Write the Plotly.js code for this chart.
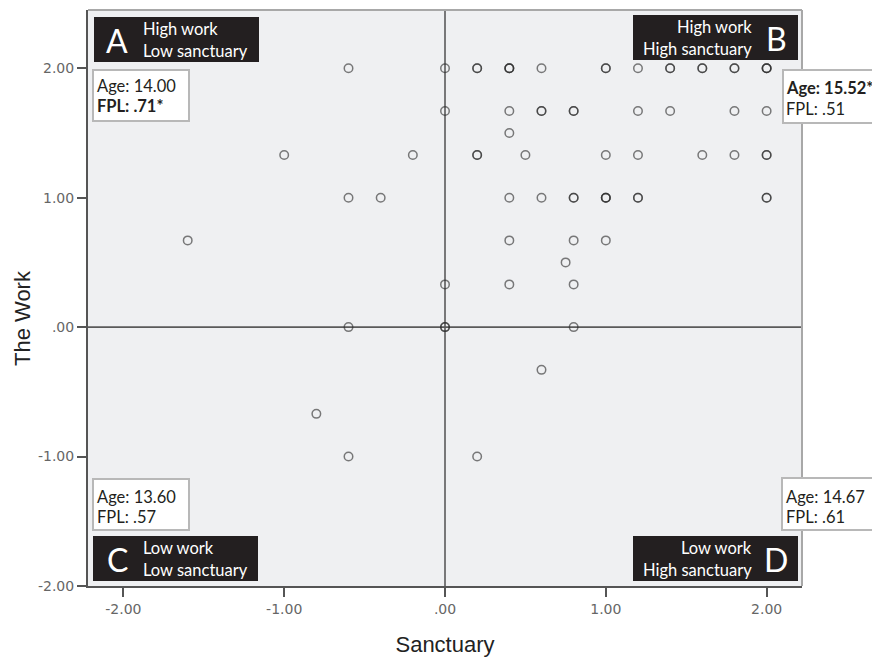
<!DOCTYPE html>
<html>
<head>
<meta charset="utf-8">
<script src="https://cdn.plot.ly/plotly-3.0.1.min.js"></script>
<style>html,body{margin:0;padding:0;background:#fff;}#chart{width:872px;height:657px;}</style>
</head>
<body>
<div id="chart"></div>
<script>
// Sanctuary (x) and The Work (y) scores; repeated pairs are overlapping cases
const sanctuary = [
  -0.6, 0, 0.2, 0.2, 0.4, 0.4, 0.4, 0.6, 1.0, 1.0, 1.2, 1.4, 1.4, 1.6, 1.6, 1.8, 1.8, 2.0, 2.0, 2.0,
  0, 0.4, 0.6, 0.6, 0.8, 0.8, 1.2, 1.4, 1.8, 2.0,
  0.4,
  -1.0, -0.2, 0.2, 0.2, 0.5, 1.0, 1.2, 1.6, 1.8, 2.0, 2.0,
  -0.6, -0.4, 0.4, 0.6, 0.8, 0.8, 1.0, 1.0, 1.0, 1.2, 1.2, 2.0, 2.0,
  -1.6, 0.4, 0.8, 1.0,
  0.75,
  0, 0.4, 0.8,
  -0.6, 0, 0, 0.8,
  0.6,
  -0.8,
  -0.6, 0.2
];
const work = [
  2, 2, 2, 2, 2, 2, 2, 2, 2, 2, 2, 2, 2, 2, 2, 2, 2, 2, 2, 2,
  1.67, 1.67, 1.67, 1.67, 1.67, 1.67, 1.67, 1.67, 1.67, 1.67,
  1.5,
  1.33, 1.33, 1.33, 1.33, 1.33, 1.33, 1.33, 1.33, 1.33, 1.33, 1.33,
  1, 1, 1, 1, 1, 1, 1, 1, 1, 1, 1, 1, 1,
  0.67, 0.67, 0.67, 0.67,
  0.5,
  0.33, 0.33, 0.33,
  0, 0, 0, 0,
  -0.33,
  -0.67,
  -1, -1
];
const tickValues = [-2, -1, 0, 1, 2];
const tickLabels = ['-2.00', '-1.00', '.00', '1.00', '2.00'];

const quadrantLetters = ['A', 'B', 'C', 'D'];
const quadrantLine1 = ['High work', 'High work', 'Low work', 'Low work'];
const quadrantLine2 = ['Low sanctuary', 'High sanctuary', 'Low sanctuary', 'High sanctuary'];
const ageLabels = ['Age: 14.00', '<b>Age: 15.52*</b>', 'Age: 13.60', 'Age: 14.67'];
const fplLabels = ['<b>FPL: .71*</b>', 'FPL: .51', 'FPL: .57', 'FPL: .61'];

// pixel -> paper helpers (plot area: x 88..802, y 10..586)
const L = 88, R = 802, T = 10, B = 586;
const px = X => (X - L) / (R - L);
const py = Y => (B - Y) / (B - T);

const boxFont = 'Lato, "Open Sans", sans-serif';
const shapes = [];
const annotations = [];

// quadrant reference lines
shapes.push({type:'line', xref:'x', yref:'paper', x0:0, x1:0, y0:0, y1:1, line:{color:'#5a5a5a', width:1.6}, layer:'below'});
shapes.push({type:'line', xref:'paper', yref:'y', x0:0, x1:1, y0:0, y1:0, line:{color:'#5a5a5a', width:1.6}, layer:'below'});
// top & right frame
shapes.push({type:'line', xref:'paper', yref:'paper', x0:0, x1:1, y0:1, y1:1, line:{color:'#a8a8a8', width:2}});
shapes.push({type:'line', xref:'paper', yref:'paper', x0:1, x1:1, y0:0, y1:1, line:{color:'#a8a8a8', width:2}});

// black quadrant label boxes [x0,y0,x1,y1]
const blackBoxes = [[94,17,259,62],[633,15,798,60],[93,536,258,581],[633,536,798,581]];
const infoBoxes = [[93,70,189,121],[783,70,890,123],[93,479,189,530],[782,478,890,530]];
blackBoxes.forEach(b => shapes.push({type:'rect', xref:'paper', yref:'paper', x0:px(b[0]), x1:px(b[2]), y0:py(b[1]), y1:py(b[3]), fillcolor:'#231f20', line:{width:0}, layer:'above'}));
infoBoxes.forEach(b => shapes.push({type:'rect', xref:'paper', yref:'paper', x0:px(b[0]), x1:px(b[2]), y0:py(b[1]), y1:py(b[3]), fillcolor:'#ffffff', line:{color:'#b8b8b8', width:2}, layer:'above'}));

function ann(text, X, Y, xanchor, size, color) {
  annotations.push({text:text, xref:'paper', yref:'paper', x:px(X), y:py(Y), xanchor:xanchor, yanchor:'middle',
    showarrow:false, font:{family:boxFont, size:size, color:color}});
}
// letters and label lines
const letterX = [117, 776, 117, 776];
const letterY = [40, 38, 559, 559];
const lineX = [141, 754, 141, 754];
const lineAnchor = ['left', 'right', 'left', 'right'];
const line1Y = [29, 27, 548, 548];
const line2Y = [51, 49, 570, 570];
for (let i = 0; i < 4; i++) {
  ann(quadrantLetters[i], letterX[i], letterY[i], 'center', 32, '#ffffff');
  ann(quadrantLine1[i], lineX[i], line1Y[i], lineAnchor[i], 16.5, '#ffffff');
  ann(quadrantLine2[i], lineX[i], line2Y[i], lineAnchor[i], 16.5, '#ffffff');
}
const infoX = [95, 784, 95, 784];
const ageY = [86, 88, 497, 497];
const fplY = [106, 109, 517, 517];
for (let i = 0; i < 4; i++) {
  ann(ageLabels[i], infoX[i], ageY[i], 'left', 16.5, '#231f20');
  ann(fplLabels[i], infoX[i], fplY[i], 'left', 16.5, '#231f20');
}
// y-axis title
annotations.push({text:'The Work', xref:'paper', yref:'paper', x:px(22), y:py(318), xanchor:'center', yanchor:'middle',
  textangle:-90, showarrow:false, font:{family:'Arial, "Liberation Sans", sans-serif', size:22, color:'#222'}});

const trace = {
  x: sanctuary, y: work, type:'scatter', mode:'markers',
  marker:{symbol:'circle-open', size:8.5, color:'rgba(45,45,45,0.62)', line:{width:1.5, color:'rgba(45,45,45,0.62)'}},
  hoverinfo:'skip'
};

const tickFont = {family:'"DejaVu Sans", sans-serif', size:14, color:'#666'};
const layout = {
  width:872, height:657,
  margin:{l:L, r:872-R, t:T, b:657-B},
  paper_bgcolor:'#ffffff', plot_bgcolor:'#eff0f2',
  showlegend:false,
  xaxis:{range:[-2.22, 2.22], tickvals:tickValues, ticktext:tickLabels, ticks:'outside', ticklen:9, tickwidth:2, tickcolor:'#555',
    showgrid:false, zeroline:false, showline:true, linecolor:'#555', linewidth:2, tickfont:tickFont,
    title:{text:'Sanctuary', font:{family:'Arial, "Liberation Sans", sans-serif', size:22, color:'#222'}, standoff:22}},
  yaxis:{range:[-2.0, 2.45], tickvals:tickValues, ticktext:tickLabels, ticks:'outside', ticklen:9, tickwidth:2, tickcolor:'#555',
    showgrid:false, zeroline:false, showline:true, linecolor:'#555', linewidth:2, tickfont:tickFont},
  shapes:shapes, annotations:annotations, hovermode:false
};
Plotly.newPlot('chart', [trace], layout, {staticPlot:true, displayModeBar:false});
</script>
</body>
</html>
